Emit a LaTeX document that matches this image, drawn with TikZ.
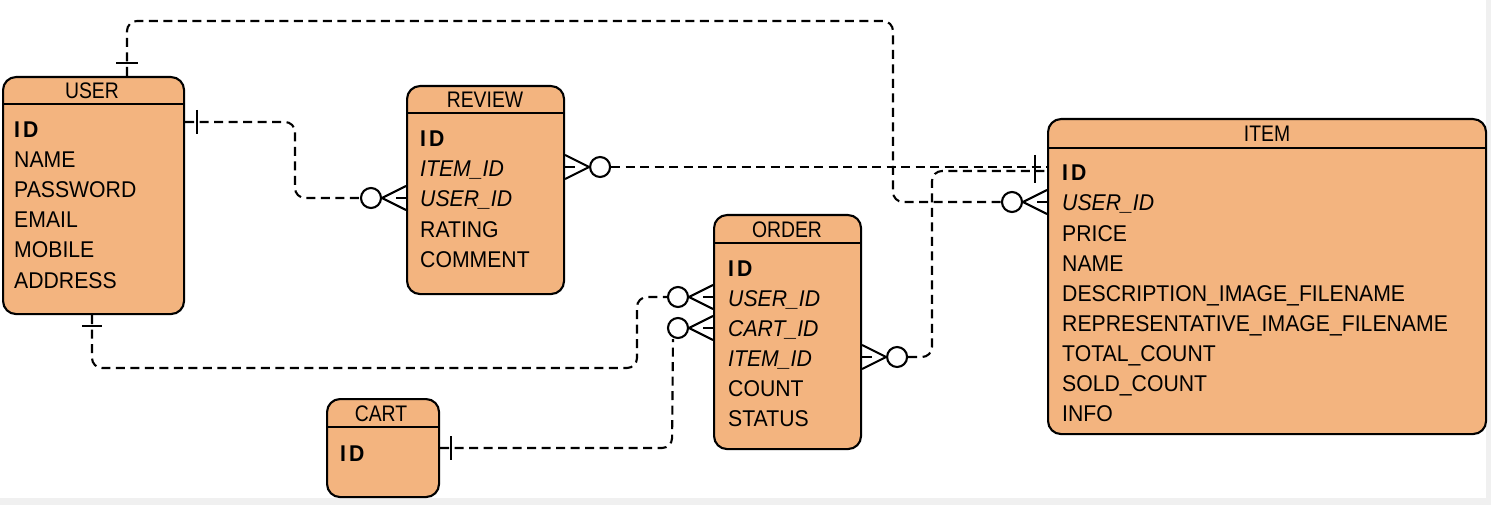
\documentclass[tikz,border=0pt]{standalone}
\usepackage{fontspec}
\setmainfont[FakeStretch=0.93]{Liberation Sans}
\newfontfamily\hdrfont[FakeStretch=0.86]{Liberation Sans}
\usetikzlibrary{calc}
\definecolor{tblfill}{HTML}{F3B47F}
\definecolor{edgegray}{HTML}{F0F0F0}
\begin{document}
\begin{tikzpicture}[x=1pt,y=-1pt,
  tbl/.style={draw=black, line width=2.1pt, fill=tblfill, rounded corners=13pt, anchor=north west, inner sep=0pt},
  hdrl/.style={line width=1.8pt},
  attr/.style={anchor=west, inner sep=0pt, text height=16pt, text depth=0pt, font=\fontsize{22.8}{27}\selectfont},
  hdr/.style={anchor=base, inner sep=0pt, font=\hdrfont\fontsize{22.5}{26}\selectfont},
  conn/.style={line width=2.1pt, dash pattern=on 9pt off 5.5pt, rounded corners=10pt},
  sym/.style={line width=2.1pt},
  circ/.style={circle, draw, line width=2.1pt, minimum size=20pt, inner sep=0pt, fill=white},
  manyL/.pic={
    \draw[sym] (0,-12) -- (-24,0) -- (0,12);
    \draw[sym] (0,0) -- (-10,0);
    \node[circ] (-c) at (-35,0) {};
  },
  manyR/.pic={
    \draw[sym] (0,-12) -- (24,0) -- (0,12);
    \draw[sym] (0,0) -- (10,0);
    \node[circ] (-c) at (35,0) {};
  }
]
\useasboundingbox (0,0) rectangle (1491,505);
\fill[edgegray] (0,0) rectangle (1491,505);
\fill[white] (0,0) rectangle (1486,498);

% ---------- tables ----------
\node[tbl, minimum width=181pt, minimum height=237pt] (user) at (2,76) {};
\draw[hdrl] (2,104) -- (183,104);
\node[hdr] (user-h) at (92,99) {USER};
\node[attr] (user-id) at (14,130) {\bfseries I\kern3pt D};
\node[attr] (user-name) at (14,160) {NAME};
\node[attr] (user-pw) at (14,190) {PASSWORD};
\node[attr] (user-em) at (14,220) {EMAIL};
\node[attr] (user-mob) at (14,250) {MOBILE};
\node[attr] (user-addr) at (14,280) {ADDRESS};

\node[tbl, minimum width=157pt, minimum height=208pt] (review) at (406,85) {};
\draw[hdrl] (406,113) -- (563,113);
\node[hdr] (review-h) at (485,108) {REVIEW};
\node[attr] (review-id) at (420,139) {\bfseries I\kern3pt D};
\node[attr] (review-iid) at (420,169) {\itshape ITEM\_ID};
\node[attr] (review-uid) at (420,199) {\itshape USER\_ID};
\node[attr] (review-rat) at (420,229) {RATING};
\node[attr] (review-com) at (420,259) {COMMENT};

\node[tbl, minimum width=147pt, minimum height=234pt] (order) at (713,214) {};
\draw[hdrl] (713,243) -- (860,243);
\node[hdr] (order-h) at (787,237) {ORDER};
\node[attr] (order-id) at (728,268) {\bfseries I\kern3pt D};
\node[attr] (order-uid) at (728,298) {\itshape USER\_ID};
\node[attr] (order-cid) at (728,328) {\itshape CART\_ID};
\node[attr] (order-iid) at (728,358) {\itshape ITEM\_ID};
\node[attr] (order-cnt) at (728,388) {COUNT};
\node[attr] (order-st) at (728,418) {STATUS};

\node[tbl, minimum width=112pt, minimum height=98pt] (cart) at (326,398) {};
\draw[hdrl] (326,427) -- (438,427);
\node[hdr] (cart-h) at (381,421) {CART};
\node[attr] (cart-id) at (340,453) {\bfseries I\kern3pt D};

\node[tbl, minimum width=438pt, minimum height=315pt] (item) at (1047,118) {};
\draw[hdrl] (1047,148) -- (1485,148);
\node[hdr] (item-h) at (1267,142) {ITEM};
\node[attr] (item-id) at (1062,173) {\bfseries I\kern3pt D};
\node[attr] (item-uid) at (1062,203) {\itshape USER\_ID};
\node[attr] (item-pr) at (1062,233) {PRICE};
\node[attr] (item-nm) at (1062,263) {NAME};
\node[attr] (item-di) at (1062,293) {DESCRIPTION\_IMAGE\_FILENAME};
\node[attr] (item-ri) at (1062,323) {REPRESENTATIVE\_IMAGE\_FILENAME};
\node[attr] (item-tc) at (1062,353) {TOTAL\_COUNT};
\node[attr] (item-sc) at (1062,383) {SOLD\_COUNT};
\node[attr] (item-inf) at (1062,413) {INFO};

% ---------- end points ----------
\coordinate (uT) at ($(user.north west)+(125,0)$);
\coordinate (uE) at ($(user.north east)+(0,46)$);
\coordinate (uB) at ($(user.south west)+(90,0)$);
\coordinate (cE) at ($(cart.north east)+(0,50)$);
\coordinate (itA) at ($(item.north west)+(0,49)$);
\coordinate (itB) at ($(item.north west)+(0,53)$);

\pic (rvU) at ($(review.north west)+(0,113)$) {manyL};
\pic (rvI) at ($(review.north east)+(0,82)$) {manyR};
\pic (orU) at ($(order.north west)+(0,83)$) {manyL};
\pic (orC) at ($(order.north west)+(0,114)$) {manyL};
\pic (orI) at ($(order.north east)+(0,143)$) {manyR};
\pic (itU) at ($(item.north west)+(0,84)$) {manyL};

% ---------- connectors ----------
\draw[conn] (uT) -- (127,21) -- (893,21) -- (893,202) -- (itU-c.west);
\draw[conn] (uE) -- (295,122) -- (295,198) -- (rvU-c.west);
\draw[conn] (rvI-c.east) -- (itA);
\draw[conn] (orI-c.east) -- (932,357) -- (932,171) -- (itB);
\draw[conn] (uB) -- (92,368) -- (637,368) -- (637,297) -- (orU-c.west);
\draw[conn] (cE) -- (672,448) -- ($(orC-c.south)+(-5,0)$);

% ---------- "one" bars ----------
\draw[sym] ($(uT)+(-11,-13)$) -- ($(uT)+(11,-13)$);
\draw[sym] ($(uE)+(12,-12)$) -- ($(uE)+(12,12)$);
\draw[sym] ($(uB)+(-10,11)$) -- ($(uB)+(10,11)$);
\draw[sym] ($(cE)+(11,-12)$) -- ($(cE)+(11,12)$);
\draw[sym] ($(itA)+(-12,-12)$) -- ($(itB)+(-12,12)$);
\end{tikzpicture}
\end{document}
